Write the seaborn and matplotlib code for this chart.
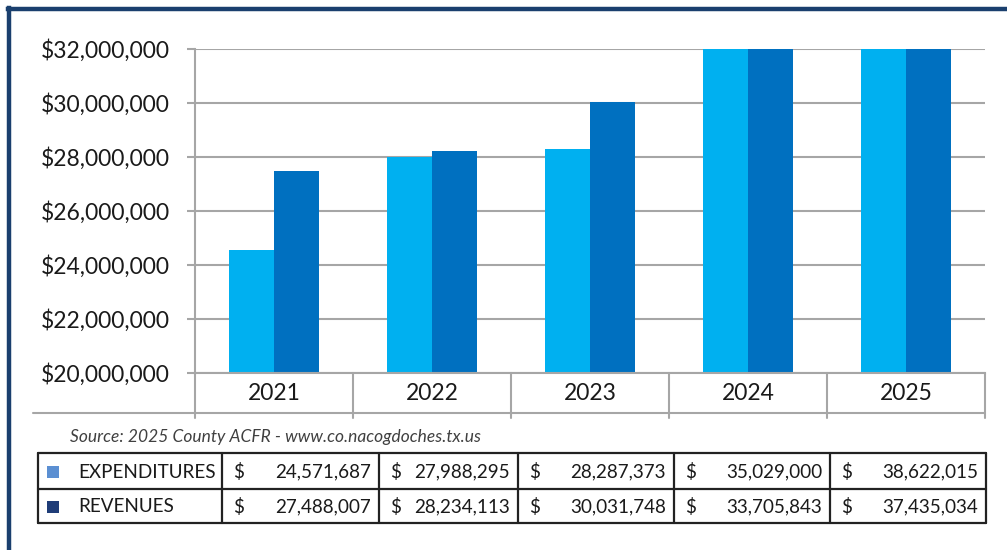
import matplotlib
matplotlib.use("Agg")
import matplotlib.pyplot as plt
from matplotlib.lines import Line2D
from matplotlib.patches import Rectangle
from matplotlib.ticker import FuncFormatter
import seaborn as sns
import pandas as pd

# ---- data ----
years = ["2021", "2022", "2023", "2024", "2025"]
series_names = ["EXPENDITURES", "REVENUES"]
expenditures = [24571687, 27988295, 28287373, 35029000, 38622015]
revenues = [27488007, 28234113, 30031748, 33705843, 37435034]
y_ticks = [20000000, 22000000, 24000000, 26000000, 28000000, 30000000, 32000000]
source_text = "Source: 2025 County ACFR - www.co.nacogdoches.tx.us"

bar_colors = ["#00b0f0", "#0070c0"]
legend_colors = ["#5b8fd2", "#1f3d78"]
FONT = "Lato"

df = pd.DataFrame({
    "year": years * 2,
    "value": expenditures + revenues,
    "series": [series_names[0]] * len(years) + [series_names[1]] * len(years),
})

sns.set_style("white")
plt.rcParams["font.family"] = [FONT, "DejaVu Sans"]

W, H = 1007, 550
fig = plt.figure(figsize=(W / 100, H / 100), dpi=100)
fig.patch.set_facecolor("white")

def fx(px):
    return px / W

def fy(py):
    return 1 - py / H

ax_l, ax_r, ax_t, ax_b = 195, 985, 49, 373
ax = fig.add_axes([fx(ax_l), fy(ax_b), fx(ax_r - ax_l), (ax_b - ax_t) / H])

sns.barplot(data=df, x="year", y="value", hue="series", palette=bar_colors,
            width=0.57, saturation=1, ax=ax, legend=False, gap=0,
            edgecolor="none", linewidth=0)

ax.set_ylim(y_ticks[0], y_ticks[-1])
ax.set_xlim(-0.5, len(years) - 0.5)
ax.set_yticks(y_ticks)
ax.yaxis.set_major_formatter(FuncFormatter(lambda v, p: "${:,.0f}".format(v)))
ax.set_xlabel("")
ax.set_ylabel("")

grid_c = "#a6a6a6"
ax.yaxis.grid(True, color=grid_c, linewidth=1.5)
ax.set_axisbelow(True)
for s in ["top", "right"]:
    ax.spines[s].set_visible(False)
for s in ["left", "bottom"]:
    ax.spines[s].set_color(grid_c)
    ax.spines[s].set_linewidth(1.5)

ax.tick_params(axis="y", which="both", left=True, length=6, width=1.5,
               color=grid_c, pad=12, labelsize=16.5, labelcolor="#1a1a1a")
ax.tick_params(axis="x", length=0, pad=7, labelsize=16.5, labelcolor="#1a1a1a")

# category boxes under the axis
box_bot = -(413 - ax_b) / (ax_b - ax_t)
stub_bot = -(418 - ax_b) / (ax_b - ax_t)
xt = ax.get_xaxis_transform()
for i in range(len(years) + 1):
    ax.add_line(Line2D([i - 0.5, i - 0.5], [0, stub_bot], transform=xt,
                       color=grid_c, lw=1.5, clip_on=False))
fig.add_artist(Line2D([fx(33), fx(ax_r)], [fy(413), fy(413)],
                      transform=fig.transFigure, color=grid_c, lw=1.5))

# source note
fig.text(fx(70), fy(437), source_text, fontsize=12.5, style="italic",
         color="#404040", va="center", ha="left")

# table
col_edges = [38, 222, 379, 518, 674, 830, 986]
row_edges = [453, 489, 523]
tc = "#1a1a1a"
TFS = 13.6
for x in col_edges:
    fig.add_artist(Line2D([fx(x), fx(x)], [fy(row_edges[0]), fy(row_edges[-1])],
                          transform=fig.transFigure, color="#222222", lw=1.6))
for y in row_edges:
    fig.add_artist(Line2D([fx(col_edges[0]), fx(col_edges[-1])], [fy(y), fy(y)],
                          transform=fig.transFigure, color="#222222", lw=1.6))

rows = [expenditures, revenues]
for r, (name, vals) in enumerate(zip(series_names, rows)):
    yc = (row_edges[r] + row_edges[r + 1]) / 2 + 1
    fig.add_artist(Rectangle((fx(47), fy(yc + 6)), fx(12), 12 / H,
                             transform=fig.transFigure, color=legend_colors[r], lw=0))
    fig.text(fx(78), fy(yc), name, fontsize=TFS, color=tc, va="center", ha="left")
    for c, v in enumerate(vals):
        l, rr = col_edges[c + 1], col_edges[c + 2]
        fig.text(fx(l + 11), fy(yc), "$", fontsize=TFS, color=tc, va="center", ha="left")
        fig.text(fx(rr - 8), fy(yc), "{:,.0f}".format(v), fontsize=TFS, color=tc,
                 va="center", ha="right")

# navy frame (top and left edges visible)
navy = "#1a3f6e"
fig.add_artist(Line2D([fx(8), 1], [fy(9), fy(9)], transform=fig.transFigure,
                      color=navy, lw=3.2, solid_capstyle="projecting"))
fig.add_artist(Line2D([fx(9), fx(9)], [fy(8), 0], transform=fig.transFigure,
                      color=navy, lw=3.2, solid_capstyle="projecting"))

fig.savefig("out.png", dpi=100, facecolor="white")
